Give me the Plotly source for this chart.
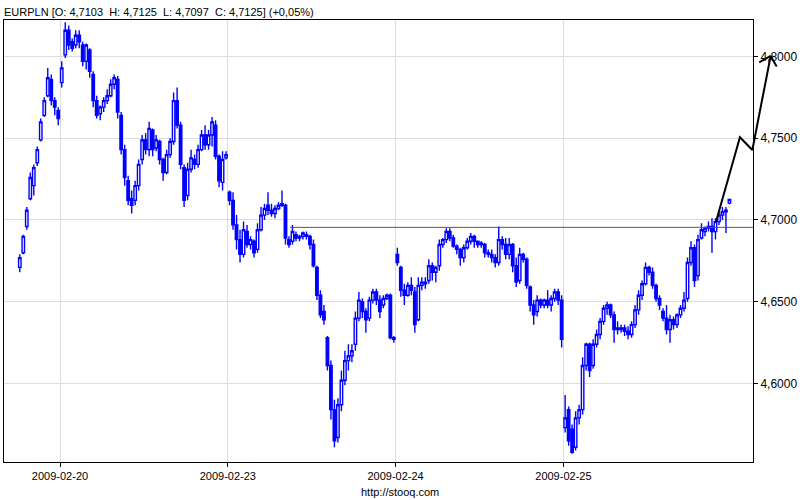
import plotly.graph_objects as go

# ---------------- data ----------------
symbol = "EURPLN"
change_text = "(+0,05%)"
sessions = ["2009-02-19", "2009-02-20", "2009-02-23", "2009-02-24", "2009-02-25"]
first_slot = [36, 0, 0, 0, 0]      # 30-minute bars; 2009-02-19 starts at 18:00
bars_per_day = 48

opens = [
    # 02-19
    4.671, 4.680, 4.696, 4.713, 4.721, 4.735, 4.749, 4.764, 4.776, 4.786, 4.773, 4.767,
    # 02-20
    4.784, 4.801, 4.816, 4.809, 4.807, 4.813, 4.807, 4.797, 4.804, 4.789,
    4.773, 4.765, 4.769, 4.773, 4.776, 4.783, 4.786, 4.764, 4.743, 4.724,
    4.713, 4.712, 4.721, 4.737, 4.749, 4.743, 4.755, 4.744, 4.748, 4.737,
    4.729, 4.740, 4.748, 4.773, 4.758, 4.732, 4.715, 4.731, 4.737, 4.734,
    4.743, 4.752, 4.746, 4.752, 4.758, 4.739, 4.723, 4.738,
    # 02-23
    4.717, 4.712, 4.697, 4.688, 4.679, 4.693, 4.685, 4.687, 4.682, 4.694,
    4.703, 4.709, 4.706, 4.704, 4.707, 4.709, 4.709, 4.688, 4.687, 4.691,
    4.689, 4.690, 4.691, 4.690, 4.685, 4.671, 4.654, 4.644, 4.628, 4.611,
    4.584, 4.567, 4.587, 4.602, 4.614, 4.617, 4.624, 4.640, 4.650, 4.644,
    4.640, 4.651, 4.656, 4.651, 4.648, 4.652, 4.654, 4.628,
    # 02-24
    4.679, 4.671, 4.657, 4.654, 4.660, 4.656, 4.639, 4.660, 4.662, 4.663,
    4.672, 4.668, 4.672, 4.685, 4.688, 4.693, 4.689, 4.684, 4.682, 4.677,
    4.683, 4.687, 4.690, 4.687, 4.685, 4.685, 4.680, 4.679, 4.677, 4.674,
    4.688, 4.685, 4.679, 4.685, 4.672, 4.663, 4.679, 4.676, 4.659, 4.648,
    4.644, 4.651, 4.648, 4.651, 4.648, 4.652, 4.656, 4.651,
    # 02-25
    4.573, 4.584, 4.572, 4.561, 4.579, 4.584, 4.611, 4.624, 4.611, 4.624,
    4.630, 4.638, 4.646, 4.648, 4.642, 4.634, 4.633, 4.634, 4.632, 4.630,
    4.636, 4.645, 4.654, 4.661, 4.671, 4.668, 4.660, 4.652, 4.644, 4.640,
    4.633, 4.639, 4.636, 4.642, 4.646, 4.652, 4.674, 4.683, 4.666, 4.689,
    4.693, 4.695, 4.696, 4.693, 4.699, 4.703, 4.705, 4.7103,
]

highs = [
    # 02-19
    4.679, 4.691, 4.708, 4.729, 4.734, 4.745, 4.762, 4.775, 4.793, 4.789, 4.775, 4.769,
    # 02-20
    4.797, 4.821, 4.819, 4.811, 4.816, 4.816, 4.809, 4.808, 4.805, 4.791,
    4.776, 4.770, 4.775, 4.780, 4.786, 4.789, 4.788, 4.766, 4.746, 4.727,
    4.718, 4.724, 4.737, 4.752, 4.753, 4.760, 4.756, 4.752, 4.749, 4.738,
    4.743, 4.750, 4.778, 4.781, 4.760, 4.734, 4.735, 4.743, 4.740, 4.746,
    4.755, 4.758, 4.755, 4.763, 4.761, 4.740, 4.742, 4.742,
    # 02-23
    4.718, 4.717, 4.703, 4.694, 4.699, 4.697, 4.690, 4.688, 4.698, 4.708,
    4.710, 4.717, 4.710, 4.709, 4.711, 4.718, 4.710, 4.690, 4.697, 4.693,
    4.691, 4.693, 4.693, 4.691, 4.688, 4.672, 4.657, 4.648, 4.629, 4.614,
    4.590, 4.591, 4.608, 4.620, 4.624, 4.624, 4.644, 4.656, 4.652, 4.646,
    4.653, 4.658, 4.658, 4.654, 4.654, 4.655, 4.655, 4.629,
    # 02-24
    4.683, 4.672, 4.661, 4.662, 4.665, 4.659, 4.665, 4.665, 4.665, 4.676,
    4.674, 4.672, 4.688, 4.689, 4.695, 4.695, 4.691, 4.685, 4.683, 4.685,
    4.689, 4.692, 4.691, 4.687, 4.687, 4.686, 4.682, 4.682, 4.679, 4.696,
    4.690, 4.689, 4.689, 4.686, 4.677, 4.683, 4.680, 4.677, 4.660, 4.651,
    4.654, 4.652, 4.652, 4.657, 4.654, 4.658, 4.658, 4.654,
    # 02-25
    4.593, 4.586, 4.575, 4.583, 4.587, 4.616, 4.625, 4.625, 4.627, 4.633,
    4.640, 4.648, 4.650, 4.649, 4.644, 4.638, 4.636, 4.636, 4.635, 4.638,
    4.648, 4.657, 4.663, 4.674, 4.672, 4.671, 4.661, 4.654, 4.646, 4.648,
    4.642, 4.641, 4.643, 4.648, 4.656, 4.677, 4.687, 4.685, 4.691, 4.698,
    4.696, 4.699, 4.701, 4.701, 4.706, 4.708, 4.708, 4.7125,
]

lows = [
    # 02-19
    4.668, 4.679, 4.694, 4.712, 4.715, 4.733, 4.748, 4.763, 4.775, 4.770, 4.764, 4.758,
    # 02-20
    4.781, 4.799, 4.804, 4.803, 4.805, 4.805, 4.794, 4.792, 4.787, 4.769,
    4.762, 4.761, 4.766, 4.771, 4.775, 4.780, 4.762, 4.740, 4.721, 4.709,
    4.704, 4.709, 4.718, 4.734, 4.740, 4.739, 4.739, 4.742, 4.734, 4.724,
    4.728, 4.738, 4.746, 4.756, 4.731, 4.708, 4.712, 4.729, 4.731, 4.732,
    4.742, 4.743, 4.743, 4.745, 4.737, 4.720, 4.718, 4.737,
    # 02-23
    4.709, 4.694, 4.682, 4.674, 4.677, 4.683, 4.682, 4.677, 4.680, 4.693,
    4.700, 4.703, 4.702, 4.701, 4.706, 4.708, 4.685, 4.683, 4.685, 4.687,
    4.687, 4.688, 4.688, 4.682, 4.671, 4.651, 4.640, 4.636, 4.608, 4.578,
    4.561, 4.564, 4.583, 4.599, 4.608, 4.613, 4.620, 4.638, 4.640, 4.631,
    4.638, 4.649, 4.648, 4.640, 4.646, 4.651, 4.627, 4.625,
    # 02-24
    4.672, 4.653, 4.648, 4.653, 4.654, 4.631, 4.638, 4.657, 4.658, 4.661,
    4.663, 4.662, 4.669, 4.683, 4.686, 4.687, 4.683, 4.679, 4.672, 4.674,
    4.682, 4.685, 4.683, 4.683, 4.683, 4.677, 4.677, 4.674, 4.671, 4.672,
    4.682, 4.676, 4.676, 4.668, 4.659, 4.661, 4.674, 4.658, 4.644, 4.636,
    4.641, 4.646, 4.646, 4.646, 4.644, 4.650, 4.648, 4.622,
    # 02-25
    4.570, 4.562, 4.557, 4.559, 4.575, 4.581, 4.608, 4.604, 4.609, 4.622,
    4.627, 4.636, 4.642, 4.640, 4.625, 4.630, 4.631, 4.629, 4.627, 4.628,
    4.634, 4.642, 4.651, 4.660, 4.666, 4.658, 4.650, 4.645, 4.638, 4.630,
    4.625, 4.633, 4.634, 4.640, 4.644, 4.650, 4.672, 4.659, 4.663, 4.688,
    4.690, 4.693, 4.680, 4.688, 4.697, 4.700, 4.692, 4.7097,
]

closes = [
    # 02-19
    4.677, 4.690, 4.706, 4.726, 4.732, 4.743, 4.760, 4.773, 4.787, 4.773, 4.769, 4.762,
    # 02-20
    4.793, 4.816, 4.807, 4.805, 4.813, 4.809, 4.797, 4.807, 4.791, 4.773,
    4.764, 4.769, 4.773, 4.776, 4.783, 4.787, 4.766, 4.743, 4.726, 4.712,
    4.709, 4.721, 4.734, 4.749, 4.743, 4.756, 4.743, 4.749, 4.737, 4.729,
    4.740, 4.748, 4.773, 4.758, 4.734, 4.712, 4.731, 4.738, 4.734, 4.743,
    4.752, 4.746, 4.752, 4.760, 4.739, 4.724, 4.737, 4.740,
    # 02-23
    4.712, 4.697, 4.688, 4.679, 4.694, 4.685, 4.688, 4.680, 4.694, 4.703,
    4.707, 4.706, 4.704, 4.707, 4.709, 4.710, 4.689, 4.685, 4.693, 4.689,
    4.690, 4.692, 4.690, 4.685, 4.672, 4.654, 4.642, 4.639, 4.611, 4.584,
    4.565, 4.587, 4.602, 4.614, 4.617, 4.620, 4.640, 4.651, 4.644, 4.639,
    4.651, 4.656, 4.651, 4.644, 4.652, 4.654, 4.628, 4.627,
    # 02-24
    4.674, 4.657, 4.654, 4.660, 4.657, 4.636, 4.660, 4.662, 4.661, 4.672,
    4.668, 4.671, 4.685, 4.688, 4.693, 4.689, 4.684, 4.682, 4.677, 4.683,
    4.687, 4.690, 4.687, 4.685, 4.686, 4.680, 4.679, 4.677, 4.674, 4.688,
    4.685, 4.679, 4.685, 4.672, 4.662, 4.679, 4.676, 4.660, 4.648, 4.642,
    4.651, 4.648, 4.651, 4.648, 4.652, 4.656, 4.651, 4.627,
    # 02-25
    4.579, 4.565, 4.558, 4.579, 4.584, 4.611, 4.624, 4.608, 4.624, 4.630,
    4.638, 4.646, 4.648, 4.642, 4.633, 4.633, 4.634, 4.632, 4.630, 4.636,
    4.645, 4.654, 4.661, 4.671, 4.668, 4.660, 4.652, 4.648, 4.640, 4.633,
    4.639, 4.636, 4.642, 4.646, 4.651, 4.674, 4.683, 4.663, 4.688, 4.694,
    4.695, 4.696, 4.693, 4.699, 4.703, 4.705, 4.706, 4.7125,
]

# horizontal level line (time in trading-day units, price)
level_price = 4.6955
level_from = 2.371

# hand-drawn black arrow (trading-day units, price)
arrow_t = [4.909, 5.052, 5.126, 5.235, 5.167, None, 5.235, 5.271]
arrow_p = [4.6988, 4.7506, 4.7428, 4.8003, 4.7964, None, 4.8003, 4.7938]

y_ticks = [4.60, 4.65, 4.70, 4.75, 4.80]
x_range = [0.6663, 5.1299]
y_range = [4.5520, 4.8223]

# ---------------- figure ----------------
x = []
for d, s0 in enumerate(first_slot):
    for s in range(s0, bars_per_day):
        x.append(d + (s + 0.5) / bars_per_day)

def fmt(v):
    return f"{v:.4f}".replace(".", ",")

title_text = (f"{symbol} [O: {fmt(opens[-1])}\u00a0 H: {fmt(highs[-1])}\u00a0 "
              f"L: {fmt(lows[-1])}\u00a0 C: {fmt(closes[-1])}] {change_text}")

W, H = 800, 500
ml, mr, mt, mb = 4, 15, 20, 38
paper_w = W - ml - mr
dom_end = (753 - ml) / paper_w
x2_range = [x_range[0], x_range[0] + (x_range[1] - x_range[0]) / dom_end]

blue = "#0000ff"
fig = go.Figure()
fig.add_trace(go.Candlestick(
    x=x, open=opens, high=highs, low=lows, close=closes,
    increasing=dict(line=dict(color=blue, width=1.4), fillcolor="#ffffff"),
    decreasing=dict(line=dict(color=blue, width=1.4), fillcolor=blue),
    whiskerwidth=0, hoverinfo="none", showlegend=False,
    xaxis="x", yaxis="y",
))
fig.add_trace(go.Scatter(
    x=[level_from, x_range[1] + 1], y=[level_price, level_price],
    mode="lines", line=dict(color="#555555", width=1),
    hoverinfo="skip", showlegend=False, xaxis="x", yaxis="y",
))
fig.add_trace(go.Scatter(
    x=arrow_t, y=arrow_p, mode="lines",
    line=dict(color="#000000", width=2),
    hoverinfo="skip", showlegend=False, xaxis="x2", yaxis="y2",
))

grid = "#dcdcdc"
fig.update_layout(
    width=W, height=H,
    margin=dict(l=ml, r=mr, t=mt, b=mb, autoexpand=False),
    paper_bgcolor="white", plot_bgcolor="rgba(0,0,0,0)",
    separators=", ",
    showlegend=False,
    boxgap=0.0,
    font=dict(family="Liberation Sans, Arial, sans-serif", size=11, color="black"),
    xaxis=dict(
        domain=[0, dom_end], range=x_range, automargin=False,
        tickvals=[1, 2, 3, 4], ticktext=sessions[1:],
        showgrid=True, gridcolor=grid, gridwidth=1,
        showline=True, linecolor="black", linewidth=1, mirror=True,
        ticks="outside", ticklen=4, tickcolor="black",
        zeroline=False, rangeslider=dict(visible=False), fixedrange=True,
        tickfont=dict(size=11),
    ),
    yaxis=dict(
        side="right", range=y_range, tickvals=y_ticks, tickformat=".4f",
        automargin=False,
        showgrid=True, gridcolor=grid, gridwidth=1,
        showline=True, linecolor="black", linewidth=1, mirror=True,
        ticks="outside", ticklen=4, tickcolor="black",
        zeroline=False, fixedrange=True,
        tickfont=dict(size=12),
    ),
    xaxis2=dict(domain=[0, 1], range=x2_range, visible=False, anchor="y2",
                fixedrange=True, automargin=False),
    yaxis2=dict(domain=[0, 1], range=y_range, visible=False, anchor="x2",
                fixedrange=True, automargin=False),
    annotations=[
        dict(text=title_text, xref="paper", yref="paper", x=0, y=1,
             xanchor="left", yanchor="middle", xshift=-2, yshift=8,
             showarrow=False, font=dict(size=11, color="black")),
        dict(text="http://stooq.com", xref="paper", yref="paper",
             x=(400 - ml) / paper_w, y=0, xanchor="center", yanchor="middle",
             yshift=-30, showarrow=False, font=dict(size=11, color="black")),
    ],
)

fig.write_html("out.html",
               config={"displayModeBar": False, "staticPlot": True},
               post_script="document.body.style.margin='0';document.body.style.padding='0';")
